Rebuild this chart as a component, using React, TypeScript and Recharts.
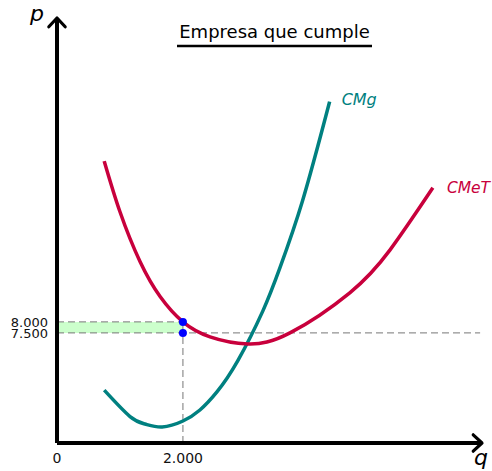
import { LineChart, Line, XAxis, YAxis, ReferenceLine, ReferenceArea, ReferenceDot } from 'recharts';

// Curva de costo medio total (q, p)
const cmetQ = [750, 1000, 1320, 1640, 2000, 2430, 3030, 3700, 4650, 5290, 5970];
const cmetP = [15300, 13000, 10730, 9140, 8000, 7320, 7000, 7500, 9320, 11270, 14090];

// Curva de costo marginal (q, p)
const cmgQ = [750, 1160, 1400, 1670, 2000, 2270, 2540, 2870, 3270, 3540, 3900, 4330];
const cmgP = [4900, 3700, 3360, 3230, 3500, 4000, 4820, 6230, 8500, 10450, 13500, 18000];

const xTicks = [0, 2000];
const yTicks = [7500, 8000];

// punto de producción y precios
const qFirm = 2000;
const pPrice = 8000;
const pCost = 7500;

const X_MIN = 0;
const X_MAX = 6750;
const Y_MIN = 2500;
const Y_MAX = 21800;
const X_DASH_END = 6720;

const cmetData = cmetQ.map((q, i) => ({ q, p: cmetP[i] }));
const cmgData = cmgQ.map((q, i) => ({ q, p: cmgP[i] }));

const FONT = '"DejaVu Sans", sans-serif';

const fmt = (n: number) => n.toString().replace(/\B(?=(\d{3})+(?!\d))/g, '.');

// eje con punta de flecha
function ArrowAxis(props: any) {
  const { x1, y1, x2, y2 } = props;
  const ang = Math.atan2(y2 - y1, x2 - x1);
  const len = 12;
  const spread = 0.75;
  const ax = x2 - len * Math.cos(ang - spread);
  const ay = y2 - len * Math.sin(ang - spread);
  const bx = x2 - len * Math.cos(ang + spread);
  const by = y2 - len * Math.sin(ang + spread);
  return (
    <g>
      <line x1={x1} y1={y1} x2={x2 - 2 * Math.cos(ang)} y2={y2 - 2 * Math.sin(ang)} stroke="#000" strokeWidth={4} />
      <path d={`M${ax},${ay} L${x2},${y2} L${bx},${by}`} fill="none" stroke="#000" strokeWidth={3.2} strokeLinecap="round" strokeLinejoin="round" />
    </g>
  );
}

function endLabel(text: string, color: string, size: number, dx: number, dy: number, last: number) {
  return (props: any) => {
    if (props.index !== last) return null;
    return (
      <text x={props.x + dx} y={props.y + dy} fill={color} fontSize={size} fontStyle="italic" fontFamily={FONT}>
        {text}
      </text>
    );
  };
}

export default function App() {
  return (
    <div style={{ position: 'absolute', left: 0, top: 0, width: 492, height: 471 }}>
      <LineChart width={492} height={471} margin={{ top: 18, right: 10, bottom: 0, left: 0 }}>
        <XAxis
          type="number"
          dataKey="q"
          domain={[X_MIN, X_MAX]}
          allowDataOverflow
          ticks={xTicks}
          tickFormatter={fmt}
          axisLine={false}
          tickLine={false}
          height={28}
          tickMargin={4}
          tick={{ fill: '#111', fontSize: 14, fontFamily: FONT }}
        />
        <YAxis
          type="number"
          dataKey="p"
          domain={[Y_MIN, Y_MAX]}
          allowDataOverflow
          ticks={yTicks}
          tickFormatter={fmt}
          axisLine={false}
          tickLine={false}
          width={57}
          tickMargin={3}
          interval={0}
          tick={{ fill: '#111', fontSize: 13, fontFamily: FONT }}
        />
        <ReferenceArea x1={X_MIN} x2={qFirm} y1={pCost} y2={pPrice} fill="#ccffcc" fillOpacity={1} stroke="none" />
        <ReferenceLine segment={[{ x: X_MIN, y: pPrice }, { x: qFirm, y: pPrice }]} stroke="#777" strokeDasharray="7 4" />
        <ReferenceLine segment={[{ x: X_MIN, y: pCost }, { x: X_DASH_END, y: pCost }]} stroke="#777" strokeDasharray="7 4" />
        <ReferenceLine segment={[{ x: qFirm, y: Y_MIN }, { x: qFirm, y: pPrice }]} stroke="#777" strokeDasharray="7 4" />
        <Line
          data={cmgData}
          dataKey="p"
          type="natural"
          stroke="#008080"
          strokeWidth={3.5}
          dot={false}
          isAnimationActive={false}
          label={endLabel('CMg', '#008080', 16, 12, 3, cmgData.length - 1)}
        />
        <Line
          data={cmetData}
          dataKey="p"
          type="natural"
          stroke="#c8003c"
          strokeWidth={3.5}
          dot={false}
          isAnimationActive={false}
          label={endLabel('CMeT', '#c8003c', 15.5, 14, 5, cmetData.length - 1)}
        />
        <ReferenceDot x={qFirm} y={pPrice} r={4} fill="#0000ff" stroke="none" />
        <ReferenceDot x={qFirm} y={pCost} r={4} fill="#0000ff" stroke="none" />
        <ReferenceLine segment={[{ x: X_MIN, y: Y_MIN }, { x: X_MAX, y: Y_MIN }]} shape={ArrowAxis} />
        <ReferenceLine segment={[{ x: X_MIN, y: Y_MIN }, { x: X_MIN, y: Y_MAX }]} shape={ArrowAxis} />
      </LineChart>
      <svg width={492} height={471} style={{ position: 'absolute', left: 0, top: 0, pointerEvents: 'none' }}>
        <text x={274.5} y={38} textAnchor="middle" fontSize={18} fontFamily={FONT} fill="#000">
          Empresa que cumple
        </text>
        <line x1={177} x2={372} y1={46} y2={46} stroke="#000" strokeWidth={2.5} />
        <text x={30} y={21} fontSize={22} fontStyle="italic" fontFamily={FONT} fill="#000">p</text>
        <text x={474} y={465} fontSize={22} fontStyle="italic" fontFamily={FONT} fill="#000">q</text>
      </svg>
    </div>
  );
}
